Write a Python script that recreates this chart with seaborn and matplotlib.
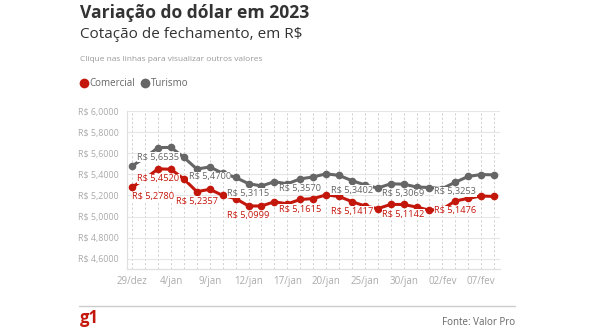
import matplotlib
matplotlib.use("Agg")
import matplotlib.pyplot as plt
from matplotlib.lines import Line2D
import numpy as np
import pandas as pd
import seaborn as sns

# Trading days shown on the x axis
dates = ["29/dez", "2/jan", "3/jan", "4/jan", "5/jan", "6/jan", "9/jan", "10/jan",
         "11/jan", "12/jan", "13/jan", "16/jan", "17/jan", "18/jan", "19/jan",
         "20/jan", "23/jan", "24/jan", "25/jan", "26/jan", "27/jan", "30/jan",
         "31/jan", "01/fev", "02/fev", "03/fev", "06/fev", "07/fev", "08/fev"]

# Closing quotes (R$)
comercial = [5.2780, 5.3600, 5.4520, 5.4480, 5.3550, 5.2357, 5.2580, 5.2000,
             5.1700, 5.0999, 5.1000, 5.1400, 5.1200, 5.1615, 5.1700, 5.2050,
             5.1900, 5.1417, 5.1000, 5.0750, 5.1150, 5.1142, 5.0900, 5.0600,
             5.0700, 5.1476, 5.1720, 5.1950, 5.1900]
turismo = [5.4800, 5.5600, 5.6535, 5.6550, 5.5600, 5.4500, 5.4700, 5.4100,
           5.3700, 5.3115, 5.2900, 5.3300, 5.3100, 5.3570, 5.3750, 5.4050,
           5.3900, 5.3402, 5.3000, 5.2700, 5.3100, 5.3069, 5.2800, 5.2750,
           5.2650, 5.3253, 5.3800, 5.3980, 5.3950]

# Points that carry a value label
comercial_labeled = [0, 2, 5, 9, 13, 17, 21, 25]
turismo_labeled = [2, 6, 9, 13, 17, 21, 25]

tick_positions = list(range(0, len(dates), 3))
y_ticks = [4.6, 4.8, 5.0, 5.2, 5.4, 5.6, 5.8, 6.0]

RED = "#c4170c"
GRAY = "#666666"

sns.set_style("white")
plt.rcParams["font.family"] = ["Open Sans", "DejaVu Sans"]

W, H = 590, 330
fig = plt.figure(figsize=(W / 100, H / 100), dpi=100)


def fx(px):
    return px / W


def fy(py):
    return 1 - py / H


ax = fig.add_axes([fx(126.7), fy(269.3), fx(500) - fx(126.7), fy(110.7) - fy(269.3)])

n = len(dates)
df = pd.DataFrame({
    "idx": list(range(n)) * 2,
    "valor": comercial + turismo,
    "serie": ["Comercial"] * n + ["Turismo"] * n,
})

sns.lineplot(data=df, x="idx", y="valor", hue="serie",
             palette={"Comercial": RED, "Turismo": GRAY},
             marker="o", markersize=5.5, markeredgewidth=0, linewidth=2.2,
             ax=ax, legend=False)

ax.set_xlim(-0.43, 28.46)
ax.set_ylim(4.5, 6.003)
ax.set_xlabel("")
ax.set_ylabel("")

ax.set_xticks(range(n))
ax.set_xticklabels([d if i in tick_positions else "" for i, d in enumerate(dates)])
ax.set_yticks(y_ticks)
ax.set_yticklabels(["R$ " + f"{v:.4f}".replace(".", ",") for v in y_ticks])
ax.tick_params(axis="both", length=0, colors="#aaaaaa", labelsize=6.4)
ax.tick_params(axis="x", pad=5, labelsize=7)
ax.tick_params(axis="y", pad=5.5)

ax.grid(axis="y", color="#e6e6e6", lw=0.8)
ax.grid(axis="x", color="#cfcfcf", lw=0.7, ls=(0, (2.2, 2.2)))
ax.set_axisbelow(True)
for side in ["top", "right"]:
    ax.spines[side].set_visible(False)
for side in ["left", "bottom"]:
    ax.spines[side].set_color("#e0e0e0")
    ax.spines[side].set_linewidth(0.9)


def fmt(v):
    return "R$ " + f"{v:.4f}".replace(".", ",")


def put_labels(values, idxs, color):
    for i in idxs:
        ha = "left" if i == 0 else "center"
        ax.annotate(fmt(values[i]), (i, values[i]), xytext=(0, -7),
                    textcoords="offset points", ha=ha, va="center",
                    fontsize=6.7, color=color, zorder=5,
                    bbox=dict(boxstyle="square,pad=0.05", fc="white", ec="none"))


put_labels(turismo, turismo_labeled, GRAY)
put_labels(comercial, comercial_labeled, RED)

# Header
fig.text(fx(80), fy(18.3), "Variação do dólar em 2023", fontsize=12.6,
         fontweight="bold", color="#333333", va="baseline", ha="left")
fig.text(fx(80), fy(37.7), "Cotação de fechamento, em R$", fontsize=11,
         color="#333333", va="baseline", ha="left")
fig.text(fx(80), fy(61), "Clique nas linhas para visualizar outros valores",
         fontsize=6, color="#999999", va="baseline", ha="left")

handles = [Line2D([], [], marker="o", ls="", markersize=7, markeredgewidth=0, color=RED),
           Line2D([], [], marker="o", ls="", markersize=7, markeredgewidth=0, color=GRAY)]
fig.legend(handles, ["Comercial", "Turismo"], loc="center left",
           bbox_to_anchor=(fx(80), fy(84)), frameon=False, ncol=2,
           handlelength=0.8, handletextpad=0.2, columnspacing=0.6,
           fontsize=7, labelcolor="#666666", borderaxespad=0, borderpad=0)

# Footer
fig.add_artist(Line2D([fx(79), fx(515)], [fy(306), fy(306)], color="#cccccc", lw=1))
fig.text(fx(80), fy(323), "g1", fontsize=12, fontweight="bold", color=RED,
         va="baseline", ha="left")
fig.text(fx(515), fy(325), "Fonte: Valor Pro", fontsize=7, color="#666666",
         va="baseline", ha="right")

fig.savefig("out.png", dpi=100, facecolor="white")
